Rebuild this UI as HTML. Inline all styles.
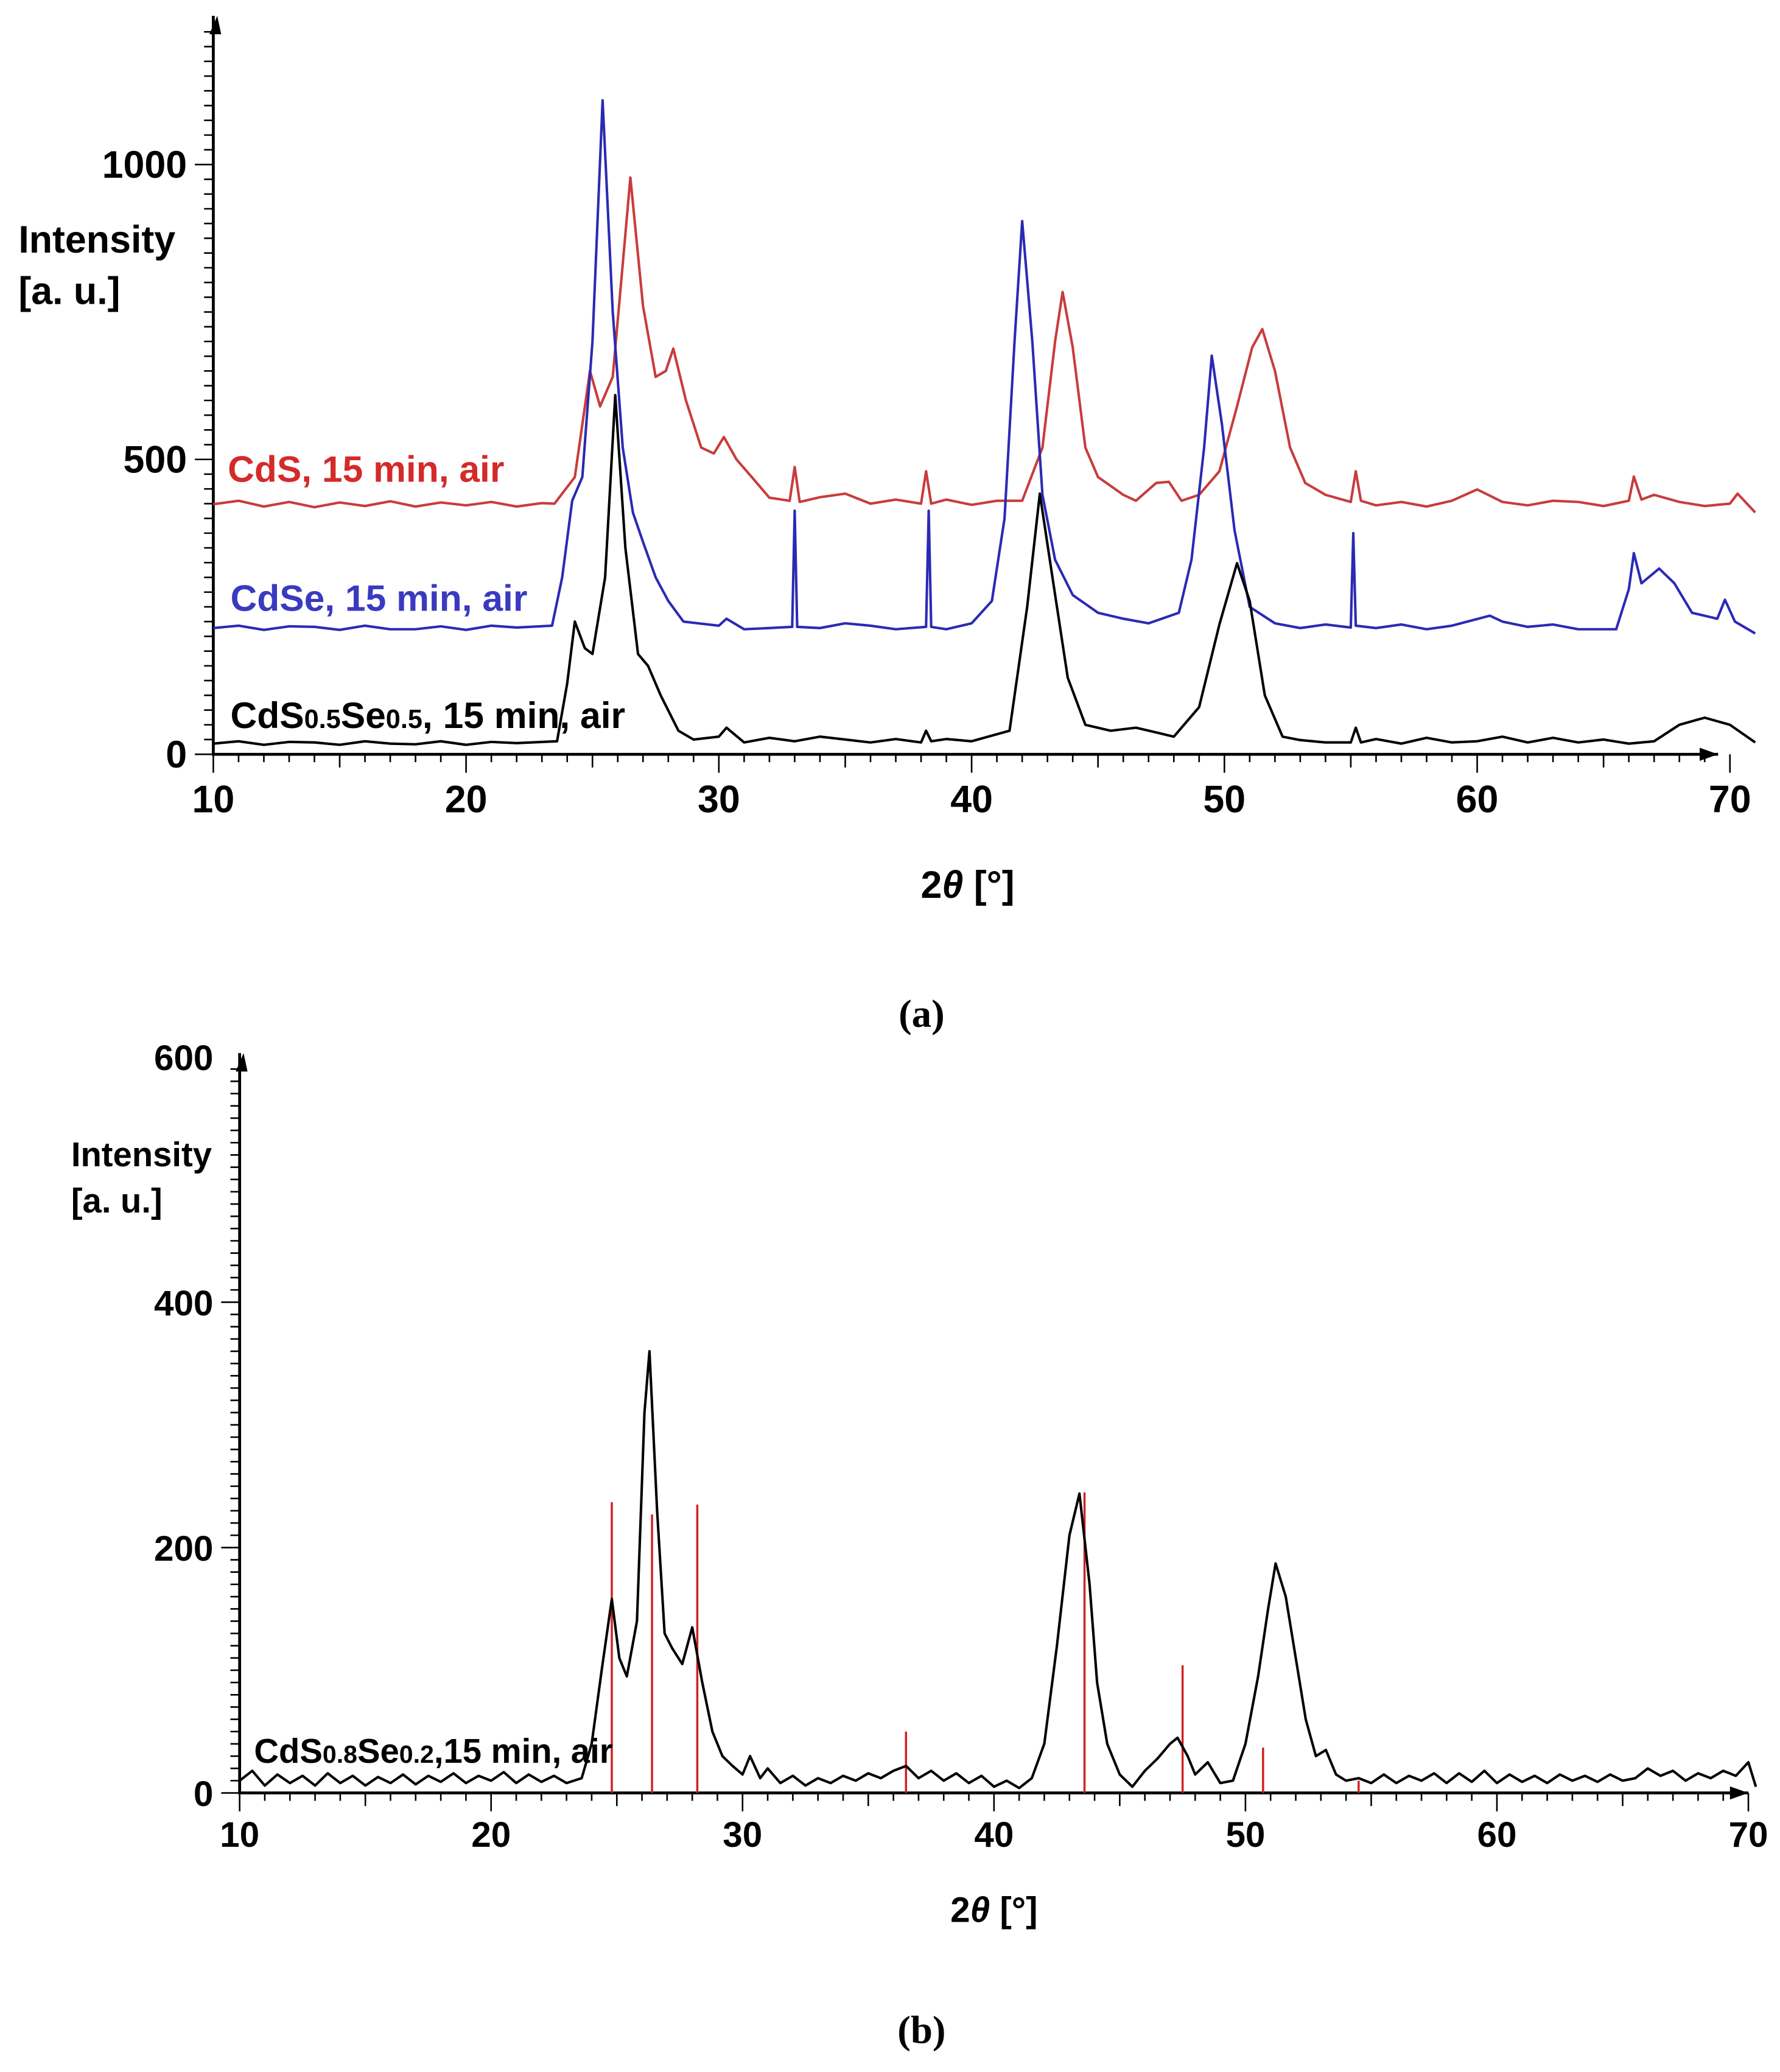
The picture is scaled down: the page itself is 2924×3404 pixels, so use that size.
<!DOCTYPE html>
<html><head><meta charset="utf-8"><style>
html,body{margin:0;padding:0;background:#fff;}
svg{display:block;}
text{font-family:"Liberation Sans",sans-serif;font-weight:bold;}
</style></head><body>
<svg id="svg" width="2924" height="3404" viewBox="0 0 1352 1574" xmlns="http://www.w3.org/2000/svg">
<g id="ga"></g>
<g id="gb"></g>
<text x="14" y="192" font-size="29">Intensity</text>
<text x="14" y="231" font-size="29">[a. u.]</text>
<text x="173" y="366" font-size="28" fill="#d42a2a">CdS, 15 min, air</text>
<text x="175" y="464" font-size="28" fill="#3a3ac0">CdSe, 15 min, air</text>
<text x="175" y="553" font-size="28" fill="#000">CdS<tspan font-size="20">0.5</tspan>Se<tspan font-size="20">0.5</tspan>, 15 min, air</text>
<text x="735" y="682" font-size="29" text-anchor="middle">2<tspan font-style="italic">θ</tspan> [°]</text>
<text x="700" y="780" font-size="30" text-anchor="middle" style="font-family:'Liberation Serif',serif;">(a)</text>
<text x="54" y="886" font-size="26">Intensity</text>
<text x="54" y="921" font-size="26">[a. u.]</text>
<text x="193" y="1339" font-size="26">CdS<tspan font-size="19">0.8</tspan>Se<tspan font-size="19">0.2</tspan>,15 min, air</text>
<text x="755" y="1460" font-size="27" text-anchor="middle">2<tspan font-style="italic">θ</tspan> [°]</text>
<text x="700" y="1552" font-size="30" text-anchor="middle" style="font-family:'Liberation Serif',serif;">(b)</text>
</svg>
<script>
const xTicks=[10,20,30,40,50,60,70];
const yTicksA=[0,500,1000];
const yTicksB=[0,200,400,600];
const cdsRed=[[10,424],[11,430],[12,420],[13,428],[14,419],[15,427],[16,421],[17,429],[18,420],[19,427],[20,422],[21,428],[22,420],[23,426],[23.5,425],[24.3,470],[24.9,650],[25.3,590],[25.8,640],[26.5,978],[27,760],[27.5,640],[27.9,650],[28.2,688],[28.7,600],[29.3,520],[29.8,510],[30.2,538],[30.7,500],[31.3,470],[32,435],[32.8,430],[33,487],[33.2,428],[34,436],[35,442],[36,425],[37,432],[38,425],[38.2,480],[38.4,425],[39,432],[40,423],[41,430],[42,430],[42.8,520],[43.3,700],[43.6,784],[44,690],[44.5,520],[45,470],[46,440],[46.5,430],[47.3,460],[47.8,462],[48.3,430],[49,440],[49.8,480],[50.5,590],[51.1,690],[51.5,721],[52,650],[52.6,520],[53.2,460],[54,440],[55,428],[55.2,480],[55.4,430],[56,422],[57,428],[58,420],[59,430],[60,449],[61,428],[62,422],[63,430],[64,428],[65,421],[66,430],[66.2,471],[66.5,432],[67,440],[68,428],[69,421],[70,425],[70.3,442],[71,410]];
const cdseBlue=[[10,214],[11,218],[12,211],[13,217],[14,216],[15,211],[16,218],[17,212],[18,212],[19,217],[20,211],[21,218],[22,215],[23.4,218],[23.8,300],[24.2,430],[24.6,470],[25,700],[25.4,1109],[25.8,750],[26.2,520],[26.6,410],[27,360],[27.5,300],[28,260],[28.6,225],[30,218],[30.3,230],[31,212],[32,214],[32.9,216],[33,413],[33.1,216],[34,214],[35,222],[36,218],[37,212],[38.2,216],[38.3,413],[38.4,216],[39,212],[40,222],[40.8,260],[41.3,400],[41.7,700],[42,904],[42.4,700],[42.8,440],[43.3,330],[44,270],[45,240],[46,230],[47,222],[48.2,240],[48.7,330],[49.2,520],[49.5,676],[49.9,560],[50.4,380],[51,250],[52,222],[53,214],[54,220],[55,215],[55.1,375],[55.2,218],[56,214],[57,220],[58,212],[59,218],[60.5,235],[61,225],[62,216],[63,220],[64,212],[65.5,212],[66,280],[66.2,341],[66.5,290],[67.2,315],[67.8,290],[68.5,240],[69.5,230],[69.8,262],[70.2,225],[71,205]];
const cdsseBlack=[[10,18],[11,22],[12,16],[13,21],[14,20],[15,16],[16,22],[17,18],[18,17],[19,22],[20,16],[21,21],[22,19],[23.6,22],[24,120],[24.3,225],[24.7,180],[25,170],[25.5,300],[25.9,609],[26.3,350],[26.8,170],[27.2,150],[27.7,100],[28.4,40],[29,25],[30,30],[30.3,45],[31,20],[32,28],[33,22],[34,30],[35,25],[36,20],[37,26],[38,20],[38.2,40],[38.4,22],[39,26],[40,22],[41.5,40],[42.2,250],[42.7,442],[43.2,300],[43.8,130],[44.5,50],[45.5,40],[46.5,45],[47.5,35],[48,30],[49,80],[49.8,220],[50.5,324],[51,260],[51.6,100],[52.3,30],[53,24],[54,20],[55,20],[55.2,45],[55.4,20],[56,26],[57,18],[58,28],[59,20],[60,22],[61,30],[62,20],[63,28],[64,20],[65,25],[66,18],[67,22],[68,50],[69,62],[70,50],[71,20]];
const bBlack=[[10,10],[10.5,18],[11,6],[11.5,15],[12,8],[12.5,14],[13,6],[13.5,16],[14,8],[14.5,14],[15,6],[15.5,13],[16,8],[16.5,15],[17,7],[17.5,14],[18,9],[18.5,16],[19,8],[19.5,14],[20,10],[20.5,17],[21,8],[21.5,15],[22,9],[22.5,14],[23,8],[23.6,12],[24,40],[24.4,100],[24.8,158],[25.1,110],[25.4,95],[25.8,140],[26.1,310],[26.3,360],[26.6,230],[26.9,130],[27.2,118],[27.6,105],[28,135],[28.4,90],[28.8,50],[29.2,30],[29.6,22],[30,15],[30.3,30],[30.7,12],[31,20],[31.5,8],[32,14],[32.5,6],[33,12],[33.5,8],[34,14],[34.5,10],[35,16],[35.5,12],[36,18],[36.5,22],[37,12],[37.5,18],[38,10],[38.5,16],[39,8],[39.5,14],[40,5],[40.5,10],[41,4],[41.5,12],[42,40],[42.5,120],[43,210],[43.4,244],[43.8,170],[44.1,90],[44.5,40],[45,15],[45.5,5],[46,18],[46.5,28],[47,40],[47.3,45],[47.7,30],[48,15],[48.5,25],[49,8],[49.5,10],[50,40],[50.5,95],[50.9,150],[51.2,187],[51.6,160],[52,110],[52.4,60],[52.8,30],[53.2,35],[53.6,15],[54,10],[54.5,12],[55,8],[55.5,15],[56,8],[56.5,14],[57,10],[57.5,16],[58,8],[58.5,16],[59,9],[59.5,18],[60,8],[60.5,15],[61,9],[61.5,14],[62,8],[62.5,15],[63,10],[63.5,14],[64,9],[64.5,15],[65,10],[65.5,12],[66,20],[66.5,14],[67,18],[67.5,10],[68,16],[68.5,12],[69,18],[69.5,14],[70,25],[70.3,5]];
const stickPos=[24.8,26.4,28.2,36.5,43.6,47.5,50.7,54.5];
const stickInt=[237,227,235,50,245,104,37,10];

const NS='http://www.w3.org/2000/svg';
function mk(parent,tag,attrs){const e=document.createElementNS(NS,tag);for(const k in attrs)e.setAttribute(k,attrs[k]);parent.appendChild(e);return e;}
function xA(t){return 162+(t-10)*19.2;}
function yA(v){return 573-v*0.448;}
function xB(t){return 182+(t-10)*19.1;}
function yB(v){return 1362-v*0.932;}

function axes(g,X,Y,yTicks,minorStep,xEnd,y0,x0,top,labelFs,xLabelY){
  let ax=mk(g,'path',{d:`M${x0} ${top} L${x0} ${y0} L${xEnd} ${y0}`,stroke:'#000','stroke-width':2.2,fill:'none'});
  
  
  let a1=mk(g,'path',{d:`M${x0-3} ${top+14} L${x0+3} ${top} L${x0+6} ${top+14}Z`,fill:'#000'});
  
  
  let a2=mk(g,'path',{d:`M${xEnd-14} ${y0-5} L${xEnd} ${y0} L${xEnd-14} ${y0+5}Z`,fill:'#000'});
  
  
  let d='';
  for(let v=0;Y(v)>top+5;v+=minorStep){const major=yTicks.includes(v);d+=`M${x0-(major?14:7)} ${Y(v)} L${x0} ${Y(v)} `;}
  for(let t=10;t<=70;t++){const l=t%10===0?14:(t%5===0?10:6);d+=`M${X(t)} ${y0} L${X(t)} ${y0+l} `;}
  let tk=mk(g,'path',{d:d,stroke:'#000','stroke-width':1.2,fill:'none'});
  
  
  yTicks.forEach(v=>{const t=mk(g,'text',{x:x0-20,y:Y(v)+10,'font-size':labelFs,'text-anchor':'end'});t.textContent=v;
    
    });
  xTicks.forEach(v=>{const t=mk(g,'text',{x:X(v),y:xLabelY,'font-size':labelFs,'text-anchor':'middle'});t.textContent=v;
    
    });
}
function line(g,data,X,Y,color,name){
  const p=mk(g,'polyline',{points:data.map(d=>X(d[0]).toFixed(1)+','+Y(d[1]).toFixed(1)).join(' '),fill:'none',stroke:color,'stroke-width':1.9,'stroke-linejoin':'round'});
  
  
}
const ga=document.getElementById('ga'),gb=document.getElementById('gb');
axes(ga,xA,yA,yTicksA,25,1305,573,162,12,29,617);
line(ga,cdsRed,xA,yA,'#c83c3c','series-cds');
line(ga,cdseBlue,xA,yA,'#2a2ab4','series-cdse');
line(ga,cdsseBlack,xA,yA,'#000','series-cds05se05');
axes(gb,xB,yB,yTicksB,10,1328,1362,182,800,27,1403);
stickPos.forEach((p,i)=>{const s=mk(gb,'line',{x1:xB(p),x2:xB(p),y1:yB(0),y2:yB(stickInt[i]),stroke:'#d02020','stroke-width':1.6});
  
  });
line(gb,bBlack,xB,yB,'#000','series-cds08se02');
</script>
</body></html>
